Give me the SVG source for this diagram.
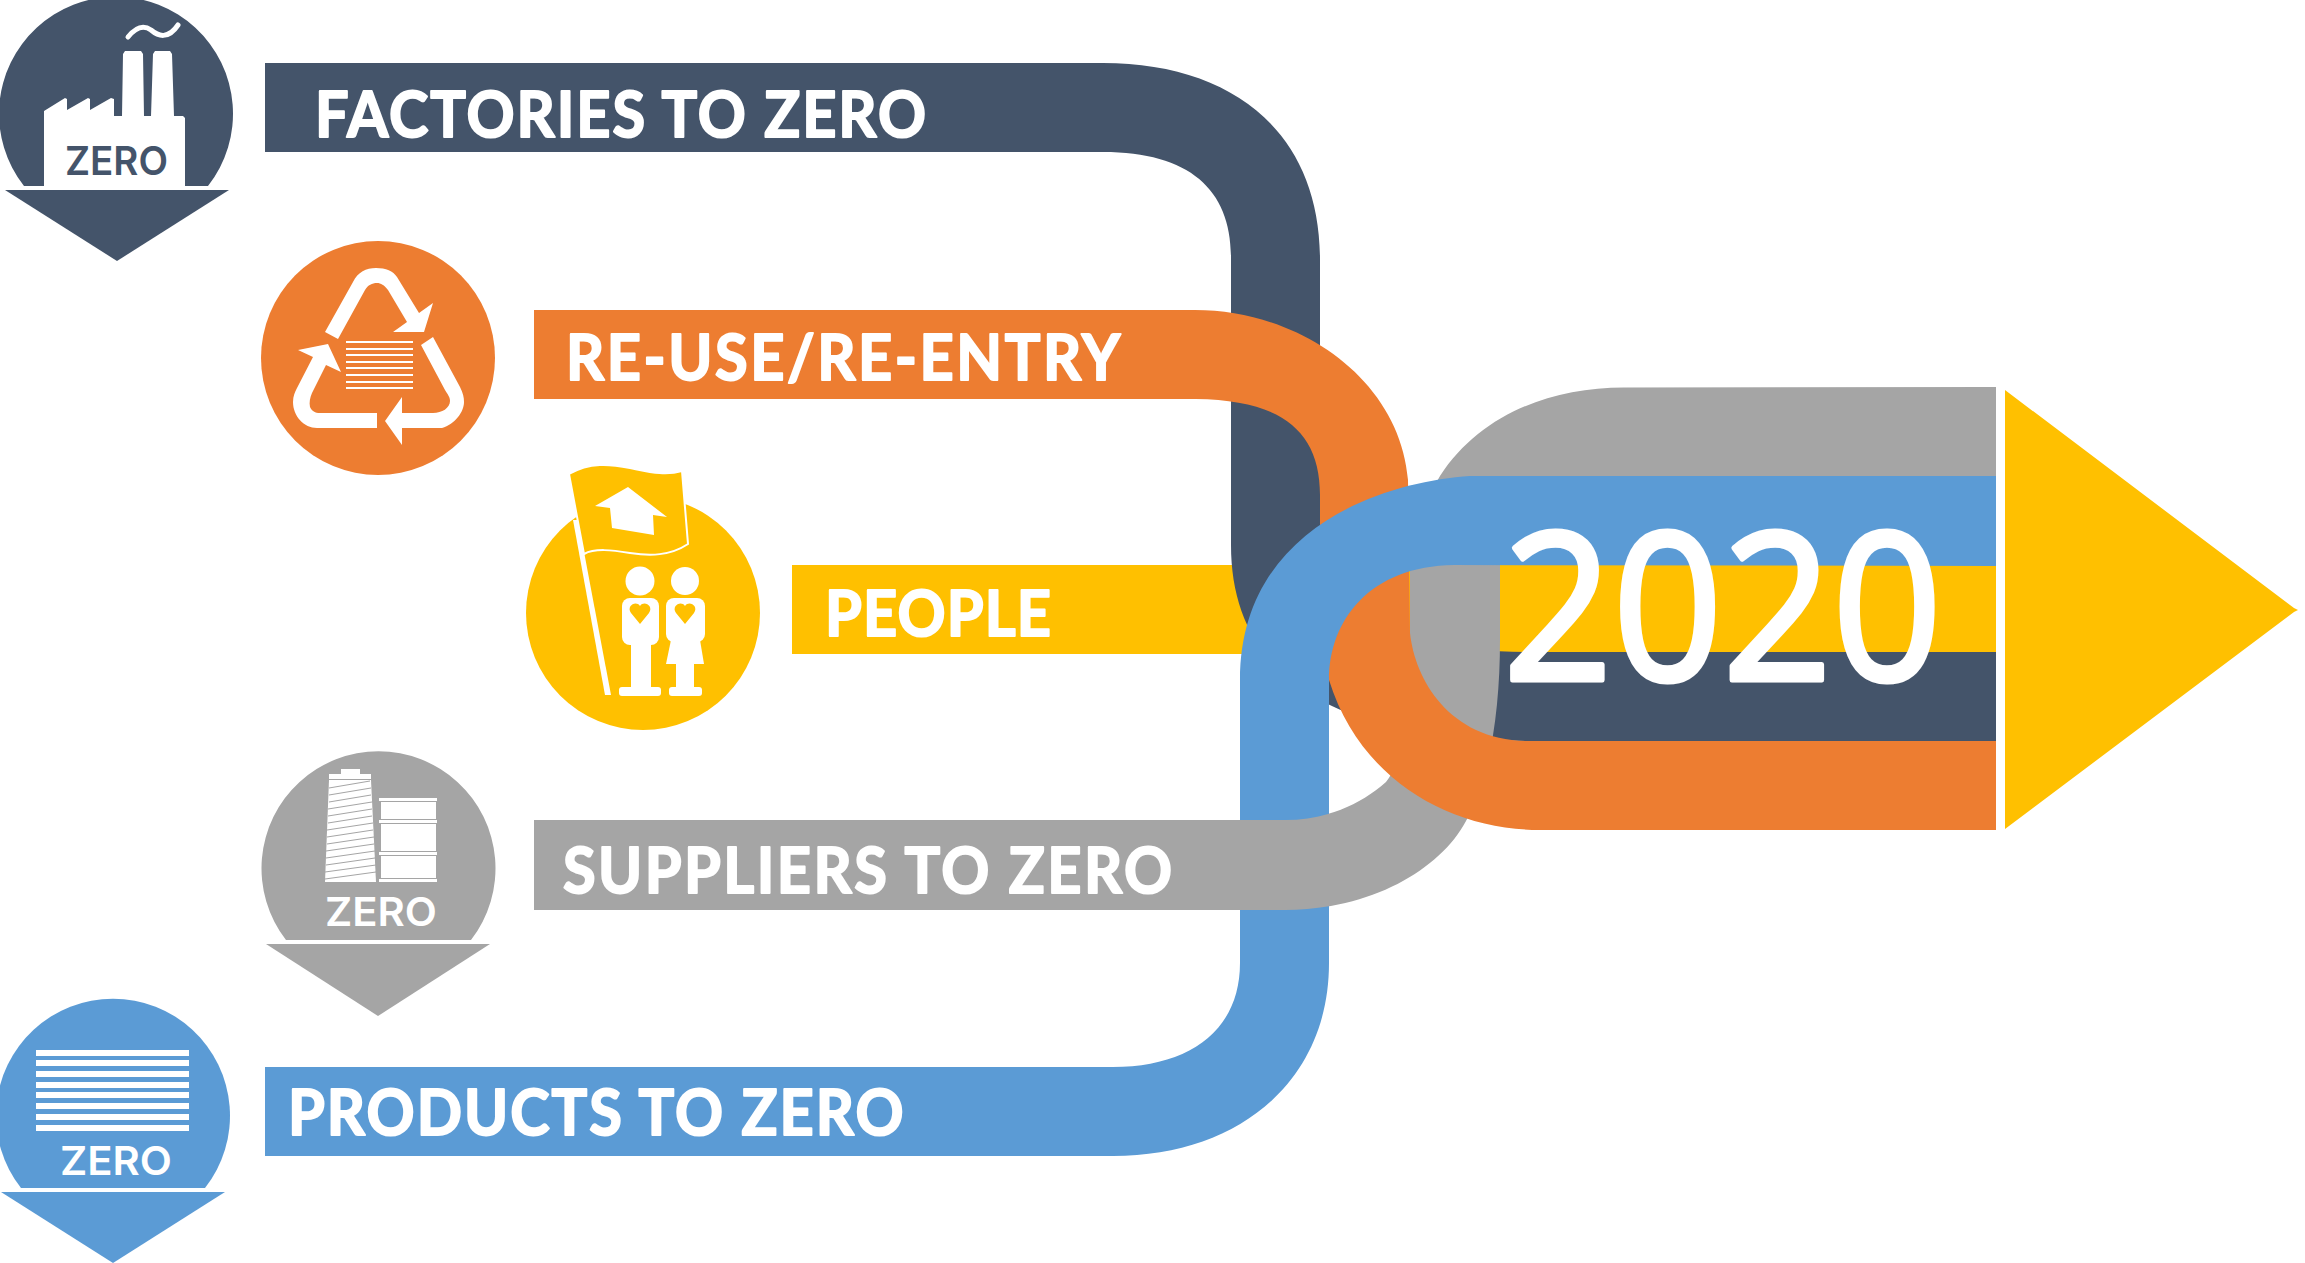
<svg xmlns="http://www.w3.org/2000/svg" width="2305" height="1263" viewBox="0 0 2305 1263">
<style>
.navy{fill:#44546A}.orange{fill:#ED7D31}.yellow{fill:#FFC000}.gray{fill:#A5A5A5}.blue{fill:#5B9BD5}.w{fill:#fff}
.label{font-family:"Lato","Liberation Sans",sans-serif;font-weight:700;font-size:64px;fill:#fff;stroke:#fff;stroke-width:2px;stroke-linejoin:round}
.zero{font-family:"Inter","Liberation Sans",sans-serif;font-weight:600;font-size:40px}
.year{font-family:"Open Sans","Liberation Sans",sans-serif;font-size:206px;fill:#fff;stroke:#fff;stroke-width:5px;stroke-linejoin:round}
.hatch{stroke:#A5A5A5;stroke-width:1;fill:none}
</style>
<defs>
<path id="gray-band" class="gray" d="M1996,387 L1626,387.500 C1550,387 1480,415 1440,476 C1420,510 1410,540 1410,572 L1410,690 C1410,720 1400,765 1386,782 C1360,805 1325,820 1285,820 L534,820 L534,910 L1285,910 C1370,910 1440,870 1466,821 C1490,780 1500,710 1500,640 L1500,565 C1500,520 1560,476 1620,476 L1996,476 Z"/>
<clipPath id="gray-front"><rect x="534" y="800" width="795" height="120"/></clipPath>
</defs>
<g id="connectors">
<rect class="yellow" x="792" y="565" width="500" height="89"/>
<rect class="yellow" x="1292" y="565" width="704" height="88"/>
<path class="navy" d="M265,63 L1103,63 C1230,63 1320,130 1320,260 L1320,545 C1320,600 1380,652 1530,652 L1996,652 L1996,741 L1530,741 C1340,741 1231,680 1231,545 L1231,257 C1231,190 1190,152 1103,152 L265,152 Z"/>
<use href="#gray-band"/>
<path class="orange" d="M534,310 L1195,310 C1300,310 1400,380 1408,480 L1410,633 C1415,680 1450,741 1529,741 L1996,741 L1996,830 L1540,830 C1450,830 1360,780 1329,680 L1320,640 L1320,495 C1320,430 1280,400 1196,399 L534,399 Z"/>
<path class="blue" d="M1996,476 L1470,476 C1380,482 1240,530 1240,680 L1240,963 C1240,1030 1190,1067 1113,1067 L265,1067 L265,1156 L1113,1156 C1240,1156 1329,1080 1329,963 L1329,680 C1329,620 1370,566 1454,565 L1996,566 Z"/>
<use href="#gray-band" clip-path="url(#gray-front)"/>
</g>
<g id="year"><text class="year" x="1503" y="680" textLength="439" lengthAdjust="spacingAndGlyphs">2020</text></g>
<g id="arrow-head"><polygon class="yellow" points="2005,390 2294,608 2298,610 2294,612 2005,829"/></g>
<g id="label-factories"><text class="label" transform="translate(315,137) scale(.93,1)" textLength="657">FACTORIES TO ZERO</text></g>
<g id="label-reuse"><text class="label" transform="translate(566,380) scale(.93,1)" textLength="596">RE-USE/RE-ENTRY</text></g>
<g id="label-people"><text class="label" transform="translate(825,636) scale(.93,1)" textLength="243">PEOPLE</text></g>
<g id="label-suppliers"><text class="label" transform="translate(563,893) scale(.93,1)" textLength="655">SUPPLIERS TO ZERO</text></g>
<g id="label-products"><text class="label" transform="translate(288,1135) scale(.93,1)" textLength="662">PRODUCTS TO ZERO</text></g>
<g id="icon-factories">
<path class="navy" d="M24,186 A117,117 0 1 1 208,186 Z"/>
<polygon class="navy" points="5,190 229,190 117,261"/>
<path class="w" d="M44,111 L65,98 L67,99 L67,110 L88,98 L90,99 L90,110 L111,98 L114,99 L114,116 L122,116 L123,54 L125,51 L141,51 L143,54 L144,116 L151,116 L153,54 L155,51 L170,51 L172,54 L174,116 L183,116 L185,118 L185,187 L44,187 Z"/>
<path d="M128,37 C136,27 144,25 151,30 C158,36 168,40 178,25" fill="none" stroke="#fff" stroke-width="5" stroke-linecap="round"/>
<text class="zero navy" x="65" y="175" textLength="103" lengthAdjust="spacingAndGlyphs">ZERO</text>
</g>
<g id="icon-reuse">
<circle class="orange" cx="378" cy="358" r="117"/>
<path class="w" d="M325,332 L353,282 C358,272 366,268 376,268 C386,268 393,271 397,277 L419,313 L433,303 L424,332 L393,332 L407,322 L388,290 C384,285 381,283 377,283 C372,283 368,285 365,290 L338,339 Z"/>
<path class="w" d="M421,345 L433,337 L460,387 C463,393 464,397 464,402 C464,412 455,424 442,428 L402,428 L402,445 L385,421 L402,397 L402,413 L433,413 C442,413 450,408 450,401 C450,397 448,395 445,390 Z"/>
<path class="w" d="M377,428 L317,428 C304,428 293,416 293,402 C293,396 295,392 297,388 L313,357 L298,350 L328,344 L341,372 L326,365 L312,393 C310,398 309,402 310,407 C312,411 315,413 320,413 L377,413 Z"/>
<g class="w"><rect x="346" y="341" width="67" height="2"/><rect x="346" y="348" width="67" height="2"/><rect x="346" y="354" width="67" height="2"/><rect x="346" y="361" width="67" height="2"/><rect x="346" y="367" width="67" height="2"/><rect x="346" y="374" width="67" height="2"/><rect x="346" y="381" width="67" height="2"/><rect x="346" y="387" width="67" height="2"/></g>
</g>
<g id="icon-people">
<circle class="yellow" cx="643" cy="613" r="117"/>
<polygon class="w" points="573,520 578,520 611,695 605,695"/>
<path class="yellow" stroke="#fff" stroke-width="2" d="M569,474 C590,462 610,464 630,468 C650,472 665,476 682,471 L688,544 C670,556 650,556 630,553 C612,550 595,548 584,554 Z"/>
<polygon class="w" points="628,487 667,517 653,515 654,535 612,528 610,508 595,506"/>
<g class="w">
<circle cx="640" cy="581" r="14.500"/><circle cx="685" cy="581" r="14"/>
<rect x="622" y="598" width="37" height="47" rx="8"/><rect x="631" y="640" width="20" height="50"/><rect x="619" y="687" width="42" height="9" rx="3"/>
<rect x="666" y="598" width="39" height="44" rx="8"/><polygon points="671,640 700,640 704,664 666,664"/><rect x="676" y="662" width="18" height="28"/><rect x="669" y="687" width="33" height="9" rx="3"/>
</g>
<path class="yellow" d="M640,624 L631,613 C626,606 636,600 640,606 C644,600 654,606 649,613 Z"/>
<path class="yellow" d="M685,624 L676,613 C671,606 681,600 685,606 C689,600 699,606 694,613 Z"/>
</g>
<g id="icon-suppliers">
<path class="gray" d="M286,940 A117,117 0 1 1 471,940 Z"/>
<polygon class="gray" points="266,944 490,944 378,1016"/>
<g class="w">
<rect x="341" y="769" width="19" height="6"/><rect x="329" y="774" width="42" height="5"/>
<polygon points="329,780 371,780 376,882 325,882"/>
<rect x="379" y="798" width="58" height="3"/><rect x="381" y="802" width="55" height="17"/><rect x="379" y="820" width="58" height="3"/><rect x="381" y="824" width="55" height="27"/><rect x="379" y="852" width="58" height="3"/><rect x="381" y="856" width="55" height="22"/><rect x="379" y="879" width="58" height="3"/>
</g>
<path class="hatch" d="M329,788 L370,781 M329,795 L371,788 M329,802 L371,795 M328,809 L372,802 M328,816 L372,809 M328,823 L372,816 M327,830 L373,823 M327,837 L373,830 M327,844 L374,837 M326,851 L374,844 M326,858 L375,851 M326,865 L375,858 M325,872 L376,865 M325,879 L376,872"/>
<text class="zero w" x="325" y="926" textLength="112" lengthAdjust="spacingAndGlyphs">ZERO</text>
</g>
<g id="icon-products">
<path class="blue" d="M21,1188 A117,117 0 1 1 205,1188 Z"/>
<polygon class="blue" points="1,1192 225,1192 113,1263"/>
<g class="w"><rect x="36" y="1050" width="153" height="6"/><rect x="36" y="1060" width="153" height="6"/><rect x="36" y="1071" width="153" height="6"/><rect x="36" y="1082" width="153" height="6"/><rect x="36" y="1092" width="153" height="6"/><rect x="36" y="1103" width="153" height="6"/><rect x="36" y="1114" width="153" height="6"/><rect x="36" y="1125" width="153" height="6"/></g>
<text class="zero w" x="60" y="1175" textLength="112" lengthAdjust="spacingAndGlyphs">ZERO</text>
</g>
</svg>
